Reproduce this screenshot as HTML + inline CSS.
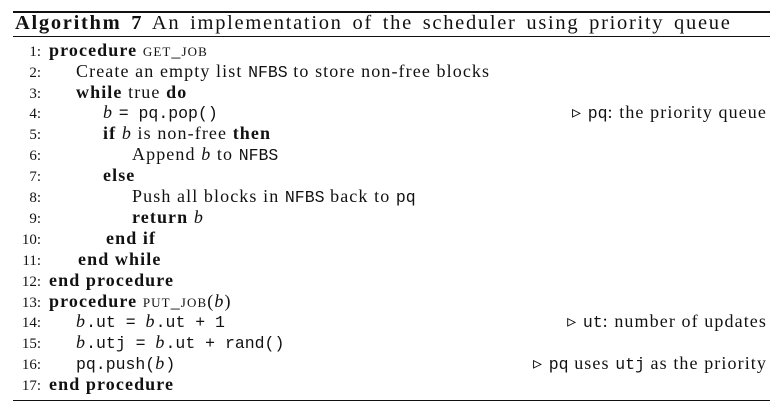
<!DOCTYPE html>
<html><head><meta charset="utf-8"><style>
body{margin:0;width:783px;height:415px;background:#fff;position:relative;overflow:hidden;font-family:"Liberation Serif",serif;color:#111}
.rule{position:absolute;left:13px;width:757px;background:#111}
.ln{position:absolute;left:0;width:783px;height:21px;line-height:21px;font-size:18px;letter-spacing:1.1px;white-space:nowrap}
.num{position:absolute;right:742px;font-size:15px;top:2px;letter-spacing:0}
.txt{position:absolute}
.cm{position:absolute;right:16px}
b{font-weight:bold}
code{font-family:"Liberation Mono",monospace;font-size:16.5px;letter-spacing:0}
.sc{font-variant:small-caps}
</style></head><body>
<div class="rule" style="top:11px;height:2px"></div>
<div class="ln" style="top:12px;font-size:20.5px;line-height:23px;letter-spacing:1.7px;word-spacing:3px"><span class="txt" style="left:15px"><b>Algorithm 7</b> An implementation of the scheduler using priority queue</span></div>
<div class="rule" style="top:36px;height:1px"></div>

<div class="ln" style="top:40px"><span class="num">1:</span><span class="txt" style="left:49px"><b>procedure</b> <span class="sc">get_job</span></span></div>
<div class="ln" style="top:61px"><span class="num">2:</span><span class="txt" style="left:76px">Create an empty list <code>NFBS</code> to store non-free blocks</span></div>
<div class="ln" style="top:82px"><span class="num">3:</span><span class="txt" style="left:76px"><b>while</b> true <b>do</b></span></div>
<div class="ln" style="top:102px"><span class="num">4:</span><span class="txt" style="left:103px"><i>b</i> <code>= pq.pop()</code></span><span class="cm">▹ <code>pq</code>: the priority queue</span></div>
<div class="ln" style="top:123px"><span class="num">5:</span><span class="txt" style="left:103px"><b>if</b> <i>b</i> is non-free <b>then</b></span></div>
<div class="ln" style="top:144px"><span class="num">6:</span><span class="txt" style="left:132px">Append <i>b</i> to <code>NFBS</code></span></div>
<div class="ln" style="top:165px"><span class="num">7:</span><span class="txt" style="left:103px"><b>else</b></span></div>
<div class="ln" style="top:186px"><span class="num">8:</span><span class="txt" style="left:132px">Push all blocks in <code>NFBS</code> back to <code>pq</code></span></div>
<div class="ln" style="top:207px"><span class="num">9:</span><span class="txt" style="left:132px"><b>return</b> <i>b</i></span></div>
<div class="ln" style="top:228px"><span class="num">10:</span><span class="txt" style="left:106px"><b>end if</b></span></div>
<div class="ln" style="top:249px"><span class="num">11:</span><span class="txt" style="left:78px"><b>end while</b></span></div>
<div class="ln" style="top:270px"><span class="num">12:</span><span class="txt" style="left:49px"><b>end procedure</b></span></div>
<div class="ln" style="top:291px"><span class="num">13:</span><span class="txt" style="left:49px"><b>procedure</b> <span class="sc">put_job</span>(<i>b</i>)</span></div>
<div class="ln" style="top:311px"><span class="num">14:</span><span class="txt" style="left:76px"><i>b</i><code>.ut = </code><i>b</i><code>.ut + 1</code></span><span class="cm">▹ <code>ut</code>: number of updates</span></div>
<div class="ln" style="top:332px"><span class="num">15:</span><span class="txt" style="left:76px"><i>b</i><code>.utj = </code><i>b</i><code>.ut + rand()</code></span></div>
<div class="ln" style="top:353px"><span class="num">16:</span><span class="txt" style="left:76px"><code>pq.push(</code><i>b</i><code>)</code></span><span class="cm">▹ <code>pq</code> uses <code>utj</code> as the priority</span></div>
<div class="ln" style="top:374px"><span class="num">17:</span><span class="txt" style="left:49px"><b>end procedure</b></span></div>

<div class="rule" style="top:400px;height:1px"></div>
</body></html>
